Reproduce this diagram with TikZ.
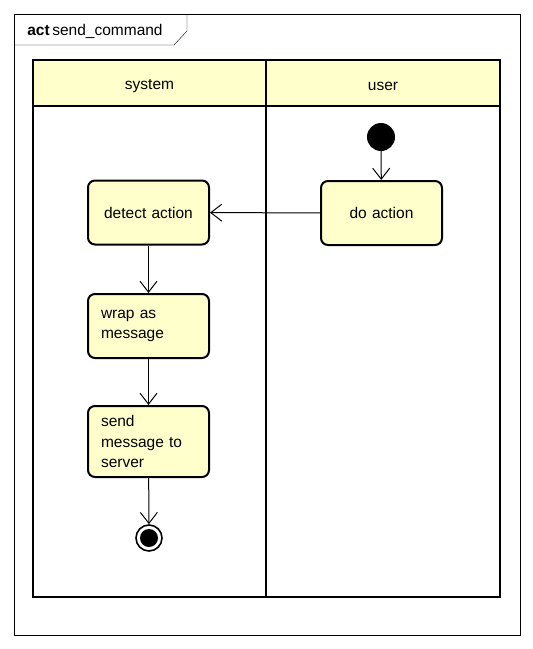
\documentclass[tikz,border=0pt]{standalone}
\usepackage{fontspec}
\setmainfont{Liberation Sans}
\usepackage{xcolor}
\usetikzlibrary{positioning,arrows.meta}
\definecolor{actfill}{HTML}{FFFFCC}

\begin{document}
\begin{tikzpicture}[x=1pt,y=-1pt,
  font=\fontsize{15.5}{20.5}\selectfont,
  lane/.style={line width=2pt},
  action/.style={draw,line width=2pt,rounded corners=7pt,fill=actfill,
    text width=95pt,inner xsep=13pt,inner ysep=0pt,minimum height=64pt,align=center},
  flow/.style={-{Straight Barb[length=11pt,width=17pt,line width=1pt]},line width=1pt}]
\useasboundingbox (0,0) rectangle (533,649);
% Frame with its label
\draw (14,14) rectangle (520,635);
\draw (14,45) -- (174,45) -- (187,31) -- (187,14);
\node (title) at (95,31) {\textbf{act}\,send\_command};
% Swimlanes
\draw[lane,fill=actfill] (33,60) rectangle (500,106);
\draw[lane] (33,60) rectangle (500,597);
\draw[lane] (266,60) -- (266,597);
\node (system) at (149.5,86) {system};
\node (user) at (383,86) {user};
% Start and actions
\node[circle,fill,minimum size=28pt,inner sep=0pt] (start) at (381,137) {};
\node[action] (doact) at (381.5,213) {do action};
\node[action] (detect) at (148.5,212.5) {detect action};
\node[action,align=left] (wrap) at (148.5,326) {wrap as\\message};
\node[action,align=left,minimum height=71pt] (send) at (148.5,441.5) {send\\message to\\server};
% End node
\node[circle,draw,line width=1.6pt,minimum size=26pt,inner sep=0pt] (end) at (149,538) {};
\fill (end) circle (9pt);
% Control flow
\draw[flow] (start) -- (doact);
\draw[flow] (doact) -- (detect);
\draw[flow] (detect) -- (wrap);
\draw[flow] (wrap) -- (send);
\draw[flow] (send) -- (end);
\end{tikzpicture}
\end{document}
